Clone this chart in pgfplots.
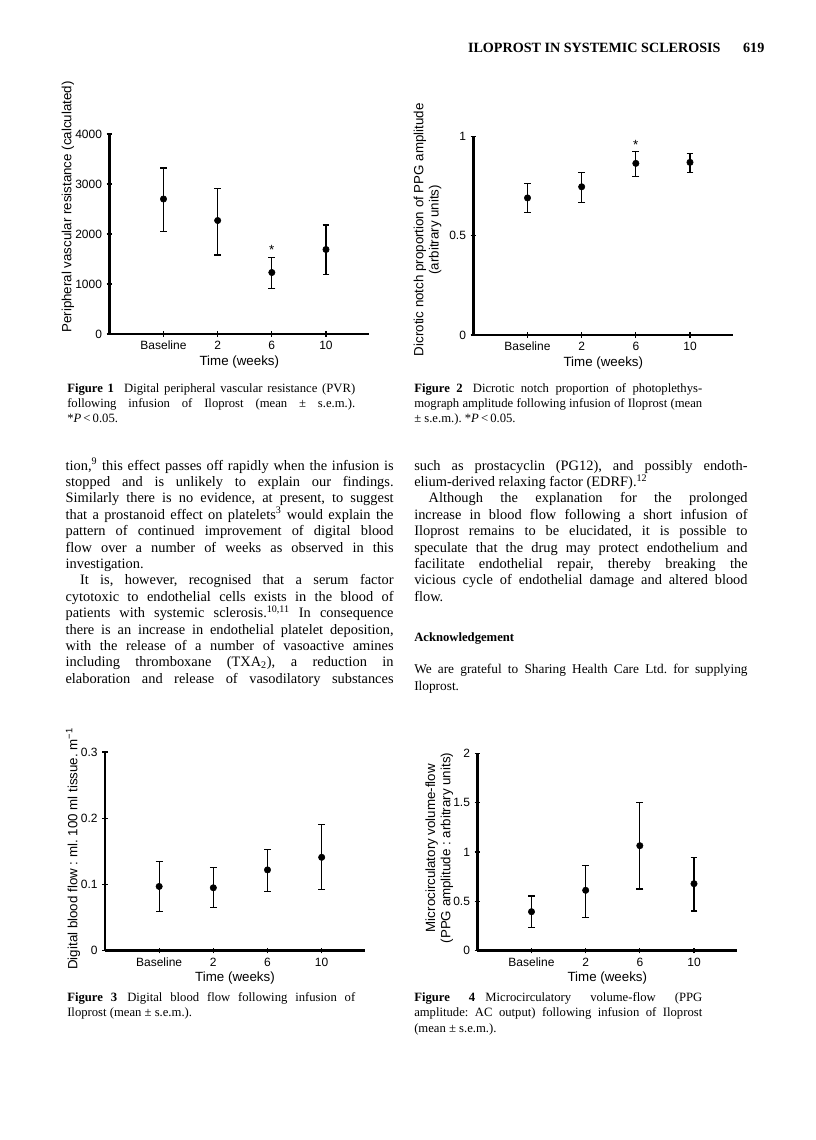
\documentclass[border=0pt]{standalone}
\usepackage{fontspec}
\setmainfont{Liberation Serif}
\newfontfamily\sans{Liberation Sans}
\usepackage{pgfplots}
\pgfplotsset{compat=1.18}
\usepackage{pgfplotstable}

\pgfplotstableread{
x y ep em
1 2700 620 650
2 2270 640 690
3 1230 300 320
4 1690 490 500
}\dataA
\pgfplotstableread{
x y ep em
1 0.690 0.074 0.075
2 0.746 0.074 0.081
3 0.864 0.059 0.064
4 0.869 0.045 0.049
}\dataB
\pgfplotstableread{
x y ep em
1 0.097 0.038 0.038
2 0.095 0.030 0.030
3 0.122 0.031 0.032
4 0.141 0.049 0.048
}\dataC
\pgfplotstableread{
x y ep em
1 0.395 0.159 0.158
2 0.612 0.256 0.278
3 1.064 0.440 0.439
4 0.679 0.270 0.277
}\dataD

\pgfplotsset{
  pagefig/.style={
    scale only axis, width=195pt, height=149pt,
    anchor=south west,
    xmin=0, xmax=4.8, ymin=0,
    axis x line*=bottom, axis y line*=left,
    axis line style={line width=2pt, black},
    xtick={1,2,3,4}, xticklabels={Baseline,2,6,10},
    tick align=center, major tick length=4pt,
    tick style={line width=0.9pt, black},
    clip=false,
    ticklabel style={font=\sans\fontsize{9}{10}\selectfont},
    xticklabel style={yshift=0.5pt, text height=6.6pt, text depth=0pt},
    label style={font=\sans\fontsize{10}{11.5}\selectfont},
    xlabel={Time (weeks)},
    xlabel style={yshift=2.5pt},
  },
  ebars/.style={only marks, mark=*, mark size=2.4pt, black,
    error bars/.cd, y dir=both, y explicit,
    error bar style={line width=0.8pt, black},
    error mark options={rotate=90, mark size=2.6pt, line width=0.8pt, black}},
}

\begin{document}
\frenchspacing
\begin{tikzpicture}
\fill[white] (0,0) rectangle (612pt,-855pt);
\useasboundingbox (0,0) rectangle (612pt,-855pt);

% header
\node[anchor=base east, inner sep=0pt, font=\bfseries\fontsize{10.6}{12}\selectfont] at (573.5pt,-39pt) {ILOPROST IN SYSTEMIC SCLEROSIS\hspace{1.6em}619};

% Figure 1
\begin{axis}[pagefig, at={(82pt,-250.5pt)}, height=150pt, ymax=4000,
  ytick={0,1000,2000,3000,4000}, yticklabels={0,1000,2000,3000,4000},
  ylabel={Peripheral vascular resistance (calculated)},
  ylabel style={at={(rel axis cs:-0.159,0.635)}, anchor=center}]
\addplot[ebars] table[x=x, y=y, y error plus=ep, y error minus=em] {\dataA};
\node[font=\sans\fontsize{10}{12}\selectfont] at (axis cs:3,1680) {*};
\end{axis}

% Figure 2
\begin{axis}[pagefig, at={(355pt,-251.25pt)}, ymax=1,
  ytick={0,0.5,1}, yticklabels={0,0.5,1},
  ylabel={Dicrotic notch proportion of PPG amplitude\\(arbitrary units)},
  ylabel style={at={(rel axis cs:-0.176,0.53)}, anchor=center, align=center}]
\addplot[ebars] table[x=x, y=y, y error plus=ep, y error minus=em] {\dataB};
\node[font=\sans\fontsize{10}{12}\selectfont] at (axis cs:3,0.955) {*};
\end{axis}

% Figure 3
\begin{axis}[pagefig, at={(78.75pt,-713pt)}, ymax=0.3,
  ytick={0,0.1,0.2,0.3}, yticklabels={0,0.1,0.2,0.3},
  ylabel={Digital blood flow : ml. 100 ml tissue. m\textsuperscript{−1}},
  ylabel style={at={(rel axis cs:-0.123,0.513)}, anchor=center}]
\addplot[ebars] table[x=x, y=y, y error plus=ep, y error minus=em] {\dataC};
\end{axis}

% Figure 4
\begin{axis}[pagefig, at={(358pt,-713pt)}, height=148pt, ymax=2,
  ytick={0,0.5,1,1.5,2}, yticklabels={0,0.5,1,1.5,2},
  ylabel={Microcirculatory volume-flow\\(PPG amplitude : arbitrary units)},
  ylabel style={at={(rel axis cs:-0.146,0.52)}, anchor=center, align=center}]
\addplot[ebars] table[x=x, y=y, y error plus=ep, y error minus=em] {\dataD};
\end{axis}

% captions
\node[anchor=base west, inner sep=0pt, text width=216pt, align=justify,
  font=\fontsize{9.5}{11.6}\selectfont] at (50.25pt,-294pt)
  {\textbf{Figure 1}\hspace{0.8em}Digital peripheral vascular resistance (PVR)\linebreak
   following infusion of Iloprost (mean ± s.e.m.).\linebreak
   *\textit{P}\,<\,0.05.};

\node[anchor=base west, inner sep=0pt, text width=216pt, align=justify,
  font=\fontsize{9.5}{11.6}\selectfont] at (310.5pt,-294pt)
  {\textbf{Figure 2}\hspace{0.8em}Dicrotic notch proportion of photoplethys-\linebreak
   mograph amplitude following infusion of Iloprost (mean\linebreak
   ± s.e.m.). *\textit{P}\,<\,0.05.};

\node[anchor=base west, inner sep=0pt, text width=216pt, align=justify,
  font=\fontsize{9.5}{11.6}\selectfont] at (50.25pt,-751pt)
  {\textbf{Figure 3}\hspace{0.8em}Digital blood flow following infusion of\linebreak
   Iloprost (mean ± s.e.m.).};

\node[anchor=base west, inner sep=0pt, text width=216pt, align=justify,
  font=\fontsize{9.5}{11.6}\selectfont] at (310.5pt,-751pt)
  {\textbf{Figure 4}\hspace{0.8em}Microcirculatory volume-flow (PPG\linebreak
   amplitude: AC output) following infusion of Iloprost\linebreak
   (mean ± s.e.m.).};

% body text left
\node[anchor=base west, inner sep=0pt, text width=246pt, align=justify,
  font=\fontsize{10.8}{12.3}\selectfont] at (49pt,-352.5pt)
  {tion,\textsuperscript{9} this effect passes off rapidly when the infusion is\linebreak
   stopped and is unlikely to explain our findings.\linebreak
   Similarly there is no evidence, at present, to suggest\linebreak
   that a prostanoid effect on platelets\textsuperscript{3} would explain the\linebreak
   pattern of continued improvement of digital blood\linebreak
   flow over a number of weeks as observed in this\linebreak
   investigation.\par
   \hspace*{1em}It is, however, recognised that a serum factor\linebreak
   cytotoxic to endothelial cells exists in the blood of\linebreak
   patients with systemic sclerosis.\textsuperscript{10,11} In consequence\linebreak
   there is an increase in endothelial platelet deposition,\linebreak
   with the release of a number of vasoactive amines\linebreak
   including thromboxane (TXA\textsubscript{2}), a reduction in\linebreak
   elaboration and release of vasodilatory substances\linebreak};

% body text right
\node[anchor=base west, inner sep=0pt, text width=250pt, align=justify,
  font=\fontsize{10.8}{12.3}\selectfont] at (310.5pt,-352.5pt)
  {such as prostacyclin (PG12), and possibly endoth-\linebreak
   elium-derived relaxing factor (EDRF).\textsuperscript{12}\par
   \hspace*{1em}Although the explanation for the prolonged\linebreak
   increase in blood flow following a short infusion of\linebreak
   Iloprost remains to be elucidated, it is possible to\linebreak
   speculate that the drug may protect endothelium and\linebreak
   facilitate endothelial repair, thereby breaking the\linebreak
   vicious cycle of endothelial damage and altered blood\linebreak
   flow.};

\node[anchor=base west, inner sep=0pt, font=\bfseries\fontsize{9.5}{11.6}\selectfont]
  at (310.5pt,-481pt) {Acknowledgement};

\node[anchor=base west, inner sep=0pt, text width=250pt, align=justify,
  font=\fontsize{10}{13}\selectfont] at (310.5pt,-505pt)
  {We are grateful to Sharing Health Care Ltd.\ for supplying\linebreak
   Iloprost.};
\end{tikzpicture}
\end{document}
